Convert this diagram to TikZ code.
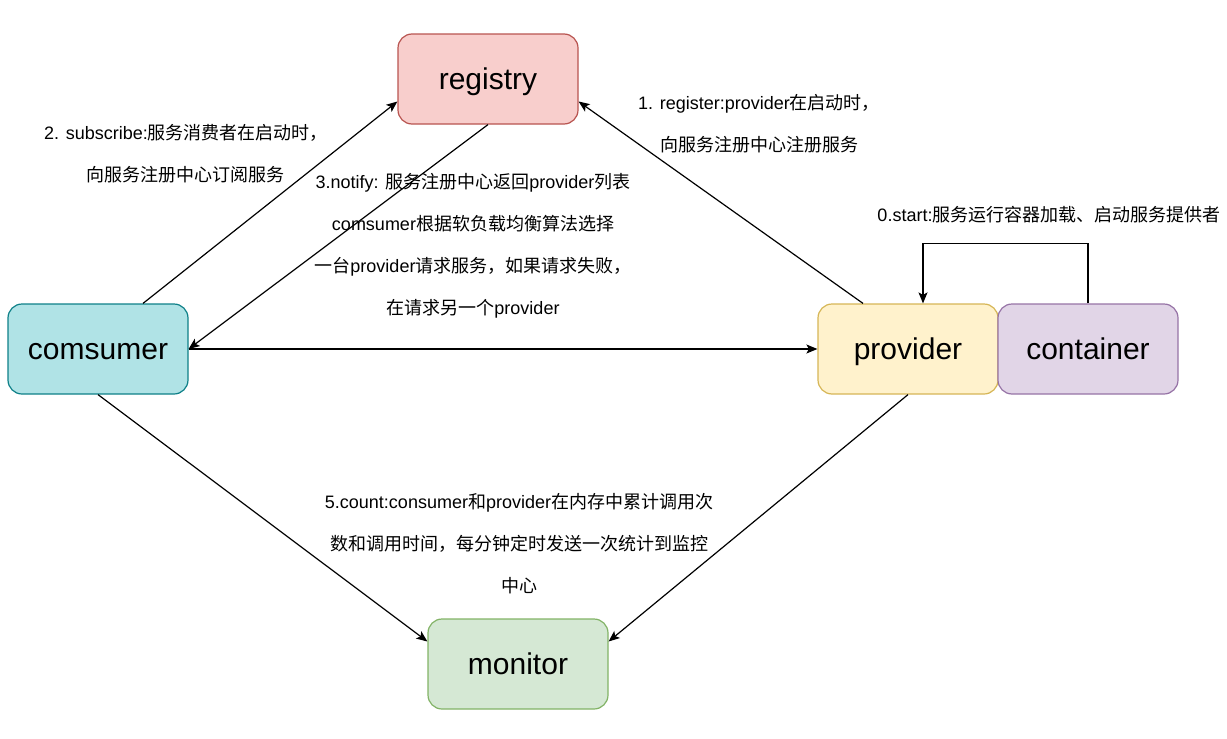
\documentclass[tikz,border=0pt]{standalone}
\usepackage{fontspec}
\setmainfont{Liberation Sans}
\newfontfamily\cjk{Noto Sans CJK SC}
\usetikzlibrary{arrows.meta}
\definecolor{regfill}{HTML}{F8CECC}\definecolor{regline}{HTML}{B85450}
\definecolor{confill}{HTML}{B0E3E6}\definecolor{conline}{HTML}{0E8088}
\definecolor{profill}{HTML}{FFF2CC}\definecolor{proline}{HTML}{D6B656}
\definecolor{ctnfill}{HTML}{E1D5E7}\definecolor{ctnline}{HTML}{9673A6}
\definecolor{monfill}{HTML}{D5E8D4}\definecolor{monline}{HTML}{82B366}
\tikzset{
  box/.style={draw, line width=1.2pt, rounded corners=14pt, minimum width=180pt,
    minimum height=90pt, inner sep=0pt, text height=28pt, text depth=6.4pt,
    font=\fontsize{30}{34}\selectfont},
  lbl/.style={align=center, inner sep=0pt, font=\fontsize{18}{42}\selectfont},
  arr/.style={line width=1.2pt, -{Stealth[length=11pt,width=9pt,inset=2.5pt]}}
}
\begin{document}
\begin{tikzpicture}[x=1pt,y=-1pt]
   \useasboundingbox (0,0) rectangle (1227,739);
   \node[box, fill=regfill, draw=regline] (registry) at (488,79) {registry};
   \node[box, fill=confill, draw=conline] (comsumer) at (98,349) {comsumer};
   \node[box, fill=profill, draw=proline] (provider) at (908,349) {provider};
   \node[box, fill=ctnfill, draw=ctnline] (container) at (1088,349) {container};
   \node[box, fill=monfill, draw=monline] (monitor) at (518,664) {monitor};

   \draw[arr] ([xshift=45pt]comsumer.north) -- ([yshift=-22.5pt]registry.west);
   \draw[arr] (registry.south) -- (comsumer.east);
   \draw[arr] ([xshift=-45pt]provider.north) -- ([yshift=-22.5pt]registry.east);
   \draw[arr] (comsumer.east) -- (provider.west);
   \draw[arr] (container.north) -- ++(0,-60) -| ([xshift=15pt]provider.north);
   \draw[arr] (comsumer.south) -- ([yshift=22.5pt]monitor.west);
   \draw[arr] (provider.south) -- ([yshift=22.5pt]monitor.east);

   \node[lbl] (subscribe) at (186,154) {2. subscribe:{\cjk 服务消费者在启动时，}\\ {\cjk 向服务注册中心订阅服务}};
   \node[lbl] (register) at (759,124) {1. register:provider{\cjk 在启动时，}\\ {\cjk 向服务注册中心注册服务}};
   \node[lbl] (notify) at (473,245.5) {3.notify: {\cjk 服务注册中心返回}provider{\cjk 列表}\\
     comsumer{\cjk 根据软负载均衡算法选择}\\ {\cjk 一台}provider{\cjk 请求服务，如果请求失败，}\\
     {\cjk 在请求另一个}provider};
   \node[lbl] (start) at (1049,215) {0.start:{\cjk 服务运行容器加载、启动服务提供者}};
   \node[lbl] (count) at (519,544) {5.count:consumer{\cjk 和}provider{\cjk 在内存中累计调用次}\\
     {\cjk 数和调用时间，每分钟定时发送一次统计到监控}\\ {\cjk 中心}};
\end{tikzpicture}
\end{document}
